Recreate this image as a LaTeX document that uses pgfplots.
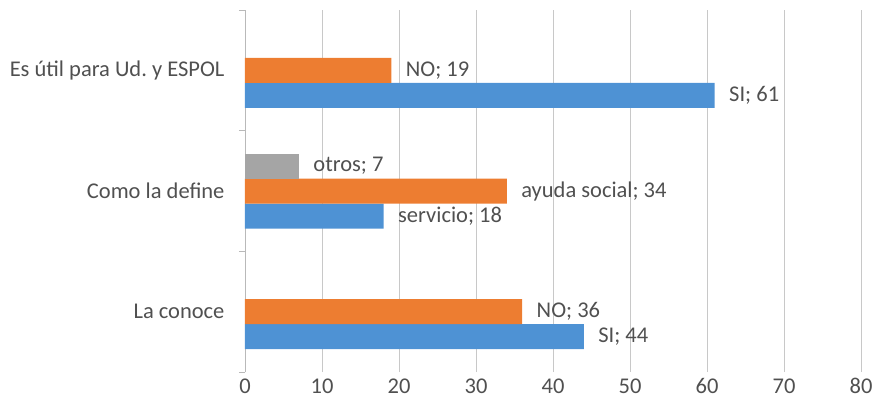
\documentclass[border=0pt]{standalone}
\usepackage{pgfplots}
\usepackage{pgfplotstable}
\pgfplotsset{compat=1.18}
\usepackage{fontspec}
\setmainfont{Carlito}
\frenchspacing
\definecolor{cblue}{RGB}{78,146,212}
\definecolor{corange}{RGB}{237,125,49}
\definecolor{cgray}{RGB}{165,165,165}
\definecolor{ctext}{RGB}{80,80,80}
\definecolor{cgrid}{RGB}{200,200,200}
\definecolor{caxis}{RGB}{185,185,185}
\pgfplotstableread{
x  y  lab
44 0  SI
18 1  servicio
61 2  SI
}\serA
\pgfplotstableread{
x  y  lab
36 0  NO
34 1  {ayuda social}
19 2  NO
}\serB
\pgfplotstableread{
x  y  lab
7  1  otros
}\serC
\begin{document}
\begin{tikzpicture}
\begin{axis}[
  scale only axis,
  width=616pt, height=362pt,
  xbar,
  xmin=0, xmax=80,
  ymin=-0.5, ymax=2.5,
  xtick={0,10,...,80},
  ytick={0,1,2},
  yticklabels={La conoce, Como la define, Es útil para Ud. y ESPOL},
  minor ytick={-0.5,0.5,1.5,2.5},
  axis lines*=left,
  axis line style={-},
  x axis line style={draw=none},
  y axis line style={draw=caxis, line width=0.8pt},
  xtick style={draw=none},
  ytick style={draw=caxis, line width=0.8pt},
  tick align=outside,
  major tick length=0pt,
  minor tick length=6pt,
  xmajorgrids,
  grid style={cgrid, line width=0.9pt},
  font=\fontsize{22.5}{26}\selectfont,
  tick label style={text=ctext, font=\fontsize{22.5}{26}\selectfont},
  /pgf/number format/assume math mode=true,
  yticklabel style={xshift=-17pt},
  xticklabel style={yshift=-3pt},
  bar width=25pt,
  point meta=explicit symbolic,
  visualization depends on={rawx \as \xv},
  nodes near coords={\pgfplotspointmeta; \pgfmathprintnumber{\xv}},
  nodes near coords align={horizontal},
  every node near coord/.append style={anchor=west, text=ctext, font=\fontsize{22.5}{26}\selectfont, xshift=11pt},
  clip=false,
]
\addplot[fill=cblue, draw=none, bar shift=-25pt] table[x=x, y=y, meta=lab] {\serA};
\addplot[fill=corange, draw=none, bar shift=0pt] table[x=x, y=y, meta=lab] {\serB};
\addplot[fill=cgray, draw=none, bar shift=25pt] table[x=x, y=y, meta=lab] {\serC};
\end{axis}
\pgfresetboundingbox
\path[use as bounding box] ([shift={(-245pt,-44pt)}]current axis.south west) rectangle ([shift={(19pt,10pt)}]current axis.north east);
\end{tikzpicture}
\end{document}
